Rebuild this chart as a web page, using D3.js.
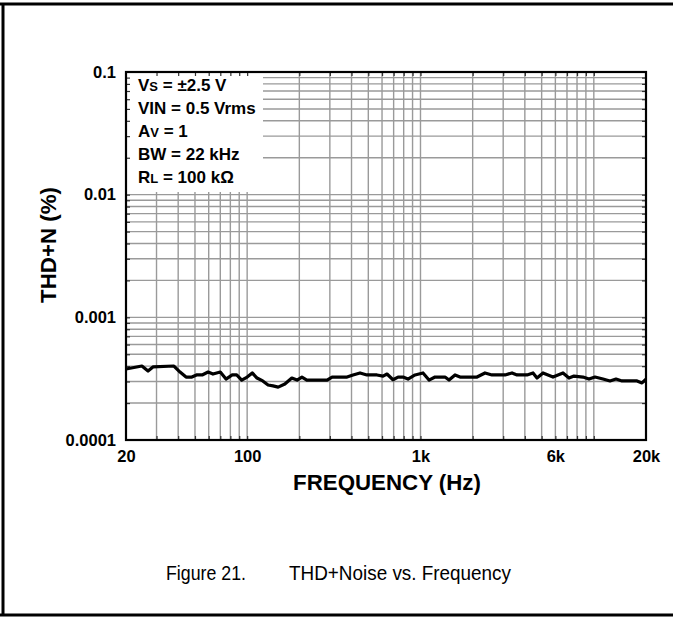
<!DOCTYPE html>
<html>
<head>
<meta charset="utf-8">
<script src="https://cdn.jsdelivr.net/npm/d3@7"></script>
<style>
  html, body { margin: 0; padding: 0; background: #fff; }
  svg { display: block; }
  text { font-family: "Liberation Sans", Arial, sans-serif; }
</style>
</head>
<body>
<svg id="chart" width="673" height="619"></svg>
<script>
// ---- data ----
const frequencyHz = [20, 24.7, 26.8, 28.6, 37.8, 41, 44.4, 48, 51, 55, 59.5, 63.5, 70, 75.5, 82, 87, 93, 100,
  107, 114, 123, 132, 141, 151, 165, 181, 194, 207, 221, 289, 309, 377, 408, 448, 491, 561, 608, 641, 694,
  742, 793, 847, 930, 1034, 1120, 1213, 1385, 1461, 1582, 1691, 2118, 2356, 2586, 3074, 3373, 3605, 4118,
  4459, 4702, 5092, 5814, 6640, 7191, 7684, 8659, 9380, 10158, 11298, 12398, 13428, 14542, 17754, 18964, 20000];
const thdnPercent = [0.000379, 0.000401, 0.000365, 0.000394, 0.000401, 0.000358, 0.000326, 0.000326, 0.000339,
  0.000339, 0.000358, 0.000345, 0.000358, 0.000314, 0.000339, 0.000339, 0.000308, 0.000326, 0.000352, 0.000320,
  0.000303, 0.000281, 0.000276, 0.000270, 0.000286, 0.000320, 0.000308, 0.000326, 0.000308, 0.000308, 0.000326,
  0.000326, 0.000339, 0.000352, 0.000339, 0.000339, 0.000332, 0.000345, 0.000310, 0.000326, 0.000326, 0.000314,
  0.000339, 0.000352, 0.000308, 0.000326, 0.000326, 0.000308, 0.000339, 0.000326, 0.000326, 0.000352, 0.000339,
  0.000339, 0.000352, 0.000339, 0.000339, 0.000352, 0.000320, 0.000352, 0.000326, 0.000352, 0.000320, 0.000332,
  0.000326, 0.000314, 0.000326, 0.000314, 0.000303, 0.000314, 0.000303, 0.000303, 0.000292, 0.000314];

const xTickValues = [20, 100, 1000, 6000, 20000];
const xTickLabels = ["20", "100", "1k", "6k", "20k"];
const yTickValues = [0.1, 0.01, 0.001, 0.0001];
const yTickLabels = ["0.1", "0.01", "0.001", "0.0001"];
const xGridValues = [30, 40, 50, 60, 70, 80, 90, 100, 200, 300, 400, 500, 600, 700, 800, 900,
  1000, 2000, 3000, 4000, 5000, 6000, 7000, 8000, 9000, 10000];
const yGridValues = [0.0002, 0.0003, 0.0004, 0.0005, 0.0006, 0.0007, 0.0008, 0.0009, 0.001,
  0.002, 0.003, 0.004, 0.005, 0.006, 0.007, 0.008, 0.009, 0.01,
  0.02, 0.03, 0.04, 0.05, 0.06, 0.07, 0.08, 0.09];
const legendLines = [
  [["V", 0], ["S", 1], [" = ±2.5 V", 0]],
  [["V", 0], ["IN", 0], [" = 0.5 Vrms", 0]],
  [["A", 0], ["V", 1], [" = 1", 0]],
  [["BW = 22 kHz", 0]],
  [["R", 0], ["L", 1], [" = 100 kΩ", 0]]
];
const xTitle = "FREQUENCY (Hz)";
const yTitle = "THD+N (%)";
const captionNum = "Figure 21.";
const captionText = "THD+Noise vs. Frequency";

// ---- layout ----
const svg = d3.select("#chart");
const L = 126, T = 72, W = 520, H = 368;

// outer frame (top, left, bottom)
svg.append("line").attr("x1", 0).attr("x2", 673).attr("y1", 4).attr("y2", 4)
  .attr("stroke", "#000").attr("stroke-width", 3);
svg.append("line").attr("x1", 3).attr("x2", 3).attr("y1", 3).attr("y2", 616)
  .attr("stroke", "#000").attr("stroke-width", 3);
svg.append("line").attr("x1", 0).attr("x2", 673).attr("y1", 615).attr("y2", 615)
  .attr("stroke", "#000").attr("stroke-width", 3);

const x = d3.scaleLog().domain([20, 20000]).range([L, L + W]);
const y = d3.scaleLog().domain([0.0001, 0.1]).range([T + H, T]);

const g = svg.append("g");

// grid
g.append("g").selectAll("line").data(yGridValues).join("line")
  .attr("x1", L).attr("x2", L + W)
  .attr("y1", d => y(d)).attr("y2", d => y(d))
  .attr("stroke", "#9a9a9a").attr("stroke-width", 1.4);
g.append("g").selectAll("line").data(xGridValues).join("line")
  .attr("x1", d => x(d)).attr("x2", d => x(d))
  .attr("y1", T).attr("y2", T + H)
  .attr("stroke", "#9a9a9a").attr("stroke-width", 1.4);

// legend box (white, hides grid)
g.append("rect").attr("x", L).attr("y", T).attr("width", 137).attr("height", 120).attr("fill", "#fff");

// inward ticks on all sides
const tickLen = 4;
g.append("g").call(d3.axisRight(y).tickValues(yGridValues).tickSize(tickLen).tickFormat(""))
  .attr("transform", `translate(${L},0)`);
g.append("g").call(d3.axisLeft(y).tickValues(yGridValues).tickSize(tickLen).tickFormat(""))
  .attr("transform", `translate(${L + W},0)`);
g.append("g").call(d3.axisBottom(x).tickValues(xGridValues).tickSize(tickLen).tickFormat(""))
  .attr("transform", `translate(0,${T})`);
g.append("g").call(d3.axisTop(x).tickValues(xGridValues).tickSize(tickLen).tickFormat(""))
  .attr("transform", `translate(0,${T + H})`);
g.selectAll(".domain").remove();
g.selectAll(".tick line").attr("stroke", "#333").attr("stroke-width", 1.2);

// data line
const line = d3.line().x((d, i) => x(frequencyHz[i])).y(d => y(d)).curve(d3.curveLinear);
g.append("path").datum(thdnPercent).attr("d", line)
  .attr("fill", "none").attr("stroke", "#000").attr("stroke-width", 3.2).attr("stroke-linejoin", "round");

// plot frame
g.append("rect").attr("x", L).attr("y", T).attr("width", W).attr("height", H)
  .attr("fill", "none").attr("stroke", "#000").attr("stroke-width", 2.2);

// tick labels
const xAx = svg.append("g").attr("transform", `translate(0,${T + H})`)
  .call(d3.axisBottom(x).tickValues(xTickValues).tickSize(0).tickPadding(10)
    .tickFormat((d, i) => xTickLabels[i]));
xAx.select(".domain").remove();
xAx.selectAll("text").attr("font-family", "Liberation Sans, Arial, sans-serif")
  .attr("font-size", 16.5).attr("font-weight", "bold").attr("fill", "#000");

const yAx = svg.append("g").attr("transform", `translate(${L},0)`)
  .call(d3.axisLeft(y).tickValues(yTickValues).tickSize(0).tickPadding(10)
    .tickFormat((d, i) => yTickLabels[i]));
yAx.select(".domain").remove();
yAx.selectAll("text").attr("font-family", "Liberation Sans, Arial, sans-serif")
  .attr("font-size", 16.5).attr("font-weight", "bold").attr("fill", "#000");

// legend text
const leg = svg.append("g");
legendLines.forEach((parts, i) => {
  const t = leg.append("text").attr("x", L + 12).attr("y", T + 19 + i * 23)
    .attr("font-size", 17).attr("font-weight", "bold").attr("fill", "#000");
  parts.forEach(([s, sub]) => {
    t.append("tspan").text(s).attr("font-size", sub ? 13 : 17);
  });
});

// axis titles
svg.append("text").attr("x", 387).attr("y", 490).attr("text-anchor", "middle")
  .attr("font-size", 22.3).attr("font-weight", "bold").text(xTitle);
svg.append("text").attr("transform", `translate(56,245) rotate(-90)`).attr("text-anchor", "middle")
  .attr("font-size", 22.3).attr("font-weight", "bold").text(yTitle);

// caption
svg.append("text").attr("x", 166).attr("y", 580).attr("font-size", 20)
  .attr("textLength", 80).attr("lengthAdjust", "spacingAndGlyphs").text(captionNum);
svg.append("text").attr("x", 289).attr("y", 580).attr("font-size", 20)
  .attr("textLength", 222).attr("lengthAdjust", "spacingAndGlyphs").text(captionText);
</script>
</body>
</html>
